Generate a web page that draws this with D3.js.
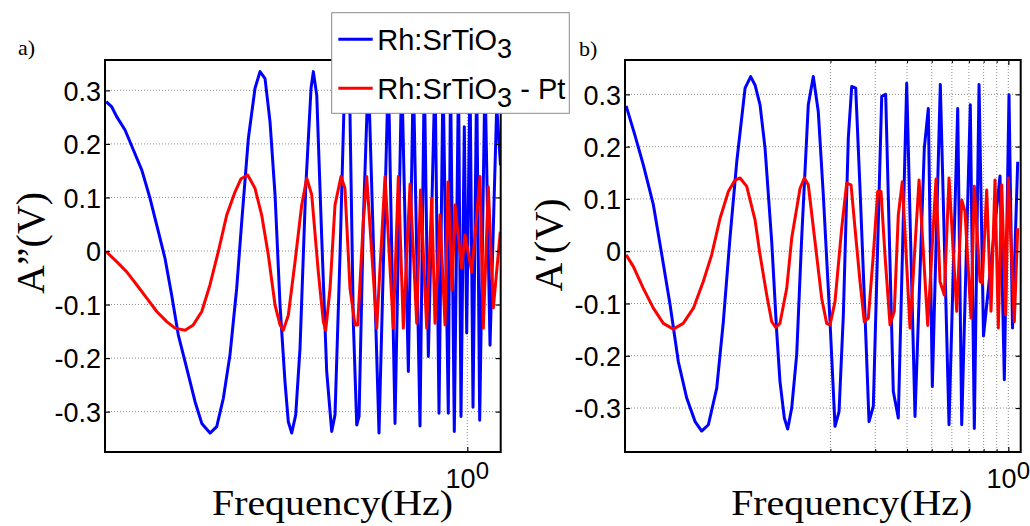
<!DOCTYPE html>
<html><head><meta charset="utf-8">
<script src="https://cdn.jsdelivr.net/npm/d3@7"></script>
<style>html,body{margin:0;padding:0;background:#fff;} svg{display:block;}</style>
</head><body>
<svg id="chart" width="1030" height="526"></svg>
<script>
// ---------- data (frequency in Hz, amplitude in V) ----------
const aBlueHz = [0.0381,0.0401,0.0419,0.0452,0.0487,0.0526,0.0567,0.0611,0.0649,0.0689,0.0732,0.0790,0.0851,0.0905,0.0975,0.1036,0.1100,0.1168,0.1241,0.1299,0.1379,0.1465,0.1533,0.1604,0.1678,0.1756,0.1837,0.1921,0.1980,0.2042,0.2117,0.2201,0.2317,0.2432,0.2483,0.2561,0.2679,0.2802,0.2932,0.3021,0.3161,0.3305,0.3460,0.3565,0.3677,0.3755,0.3903,0.4083,0.4498,0.4894,0.5199,0.5524,0.5866,0.6135,0.6518,0.6776,0.7028,0.7466,0.7740,0.8026,0.8420,0.8590,0.8890,0.9235,0.9445,0.9732,0.9946,1.0247,1.0529,1.0887,1.1186,1.1735,1.2281,1.3047,1.3505];
const aBlueV = [0.279,0.269,0.251,0.226,0.189,0.151,0.098,0.036,-0.014,-0.082,-0.157,-0.219,-0.281,-0.322,-0.340,-0.328,-0.275,-0.194,-0.070,0.055,0.210,0.304,0.335,0.322,0.241,0.105,-0.101,-0.244,-0.319,-0.340,-0.306,-0.182,0.117,0.304,0.335,0.291,0.024,-0.225,-0.337,-0.306,-0.007,0.335,0.254,-0.132,-0.325,-0.309,0.055,0.335,-0.340,0.335,-0.322,0.335,-0.225,0.335,-0.327,0.335,-0.197,0.335,-0.303,0.33,-0.303,0.33,-0.337,0.33,-0.309,0.232,-0.153,0.33,-0.292,0.33,-0.316,0.33,-0.176,0.27,0.16];
const aRedHz = [0.0381,0.0419,0.0459,0.0502,0.0550,0.0602,0.0659,0.0710,0.0778,0.0838,0.0905,0.0975,0.1051,0.1134,0.1222,0.1291,0.1371,0.1465,0.1556,0.1652,0.1756,0.1837,0.1892,0.1980,0.2104,0.2235,0.2339,0.2447,0.2597,0.2718,0.2777,0.2888,0.3021,0.3189,0.3305,0.3460,0.3620,0.3710,0.3903,0.4024,0.4406,0.4750,0.5120,0.5358,0.5605,0.5957,0.6327,0.6548,0.6924,0.7244,0.7466,0.7811,0.8173,0.8398,0.8708,0.8948,0.9506,0.9794,1.0406,1.0819,1.1217,1.1556,1.2092,1.2653,1.3480];
const aRedV = [-0.001,-0.020,-0.039,-0.063,-0.088,-0.113,-0.132,-0.144,-0.148,-0.138,-0.113,-0.063,-0.001,0.067,0.110,0.135,0.142,0.117,0.067,-0.007,-0.101,-0.138,-0.148,-0.120,-0.020,0.086,0.136,0.105,-0.039,-0.132,-0.148,-0.070,0.086,0.139,0.117,-0.070,-0.138,-0.138,0.055,0.139,-0.144,0.139,-0.144,0.139,-0.144,0.125,-0.135,0.114,-0.144,0.098,-0.135,0.067,-0.138,0.129,-0.073,0.086,-0.032,0.030,-0.039,0.050,0.139,-0.144,0.120,-0.106,0.036];
const bBlueHz = [0.0315,0.0341,0.0368,0.0403,0.0435,0.0469,0.0505,0.0545,0.0588,0.0624,0.0663,0.0715,0.0759,0.0806,0.0857,0.0924,0.0972,0.1011,0.1058,0.1107,0.1176,0.1230,0.1267,0.1318,0.1359,0.1409,0.1474,0.1542,0.1637,0.1713,0.1792,0.1875,0.1993,0.2085,0.2162,0.2248,0.2351,0.2425,0.2514,0.2614,0.2735,0.2836,0.2948,0.3085,0.3181,0.3297,0.3532,0.3696,0.3988,0.4299,0.4677,0.4849,0.5028,0.5405,0.5848,0.6327,0.6560,0.7090,0.7353,0.7673,0.7990,0.9277,0.9645,1.0063,1.0387,1.0887];
const bBlueV = [0.278,0.222,0.165,0.089,-0.007,-0.103,-0.211,-0.281,-0.326,-0.344,-0.332,-0.262,-0.135,0.025,0.171,0.312,0.334,0.318,0.280,0.197,0.018,-0.154,-0.249,-0.319,-0.340,-0.300,-0.198,0.025,0.280,0.334,0.267,0.108,-0.135,-0.335,-0.307,-0.122,0.216,0.315,0.312,0.120,-0.122,-0.326,-0.297,0.057,0.296,0.300,-0.268,-0.319,0.321,-0.316,0.197,0.273,-0.259,0.319,-0.332,0.273,-0.332,0.280,-0.339,0.319,-0.162,0.144,-0.246,0.299,-0.147,0.171];
const bRedHz = [0.0315,0.0336,0.0368,0.0403,0.0441,0.0483,0.0528,0.0579,0.0633,0.0683,0.0737,0.0794,0.0844,0.0883,0.0938,0.1011,0.1058,0.1124,0.1176,0.1219,0.1267,0.1347,0.1409,0.1519,0.1579,0.1637,0.1740,0.1848,0.1933,0.1993,0.2085,0.2215,0.2317,0.2410,0.2498,0.2614,0.2718,0.2818,0.2948,0.3068,0.3161,0.3276,0.3429,0.3565,0.3696,0.3832,0.4109,0.4459,0.4824,0.5199,0.5390,0.5605,0.5848,0.6270,0.6560,0.6758,0.7136,0.7353,0.7742,0.7903,0.8223,0.8551,0.8865,0.9135,0.9420,0.9768,1.0000,1.0558,1.0887];
const bRedV = [-0.007,-0.029,-0.071,-0.109,-0.138,-0.149,-0.138,-0.109,-0.058,-0.007,0.063,0.114,0.136,0.140,0.124,0.060,-0.007,-0.084,-0.135,-0.146,-0.138,-0.071,0.025,0.120,0.140,0.127,0.018,-0.090,-0.138,-0.141,-0.096,0.044,0.130,0.127,0.044,-0.058,-0.135,-0.128,-0.007,0.114,0.114,-0.007,-0.141,-0.115,0.069,0.133,-0.147,0.136,-0.142,0.138,-0.058,-0.084,0.140,-0.115,0.098,0.076,-0.128,0.124,-0.058,-0.061,0.117,-0.115,0.136,-0.147,0.127,-0.122,0.140,-0.135,0.044];

const yTicks = [-0.3,-0.2,-0.1,0,0.1,0.2,0.3];
const xMajorTicks = [1];
const xMinorTicksB = [0.2,0.3,0.4,0.5,0.6,0.7,0.8,0.9];
const seriesNames = ["Rh:SrTiO|3|", "Rh:SrTiO|3| - Pt"];
const seriesColors = ["#0000ff", "#ff0000"];

// ---------- drawing ----------
const svg = d3.select("#chart");
const SANS = "'Liberation Sans', Arial, Helvetica, sans-serif";
const SERIF = "'Liberation Serif', 'Times New Roman', serif";

const panels = [
  {left:105, right:500.7, top:60, bottom:452, xDomain:[0.0377,1.3527], yDomain:[-0.3754,0.3567],
   series:[[aBlueHz,aBlueV],[aRedHz,aRedV]], ylabel:"A\u201D(V)", tag:"a)", tagX:18, tagY:55,
   ylabX:44, ylabY:243, xlabX:332.5, minor:[]},
  {left:625, right:1020.7, top:60, bottom:452, xDomain:[0.03118,1.1186], yDomain:[-0.3841,0.3657],
   series:[[bBlueHz,bBlueV],[bRedHz,bRedV]], ylabel:"A\u2032(V)", tag:"b)", tagX:579, tagY:56,
   ylabX:561.5, ylabY:245, xlabX:851.7, minor:xMinorTicksB}
];

panels.forEach((p, pi) => {
  const x = d3.scaleLog().domain(p.xDomain).range([p.left, p.right]);
  const y = d3.scaleLinear().domain(p.yDomain).range([p.bottom, p.top]);
  const g = svg.append("g");

  // grid
  const grid = g.append("g").attr("stroke", "#8c8c8c").attr("stroke-width", 1).attr("stroke-dasharray", "1,2");
  grid.selectAll("line.h").data(yTicks).join("line").attr("class","h")
    .attr("x1", p.left).attr("x2", p.right).attr("y1", d => y(d)).attr("y2", d => y(d));
  grid.selectAll("line.v").data(xMajorTicks.concat(p.minor)).join("line").attr("class","v")
    .attr("y1", p.top).attr("y2", p.bottom).attr("x1", d => x(d)).attr("x2", d => x(d));

  // clip
  const cid = "clip" + pi;
  svg.append("clipPath").attr("id", cid).append("rect")
    .attr("x", p.left).attr("y", p.top).attr("width", p.right - p.left).attr("height", p.bottom - p.top);

  const line = d3.line().x(d => x(d[0])).y(d => y(d[1]));
  p.series.forEach((s, si) => {
    const pts = s[0].map((f, i) => [f, s[1][i]]);
    g.append("path").datum(pts).attr("d", line)
      .attr("clip-path", `url(#${cid})`)
      .attr("fill", "none").attr("stroke", seriesColors[si]).attr("stroke-width", 3)
      .attr("stroke-linejoin", "round");
  });

  // axes (ticks inward)
  const fmt = d => d === 0 ? "0" : d.toFixed(1);
  const ax = g.append("g").attr("transform", `translate(${p.left},0)`)
    .call(d3.axisLeft(y).tickValues(yTicks).tickSizeInner(-5).tickSizeOuter(0).tickPadding(4).tickFormat(fmt));
  ax.select(".domain").remove();
  ax.selectAll("text").attr("font-family", SANS).attr("font-size", 27).attr("fill", "#000").attr("dy", "0.36em");
  ax.selectAll("line").attr("stroke", "#000").attr("stroke-width", 1.2);

  const axr = g.append("g").attr("transform", `translate(${p.right},0)`)
    .call(d3.axisRight(y).tickValues(yTicks).tickSizeInner(-5).tickSizeOuter(0).tickFormat(""));
  axr.select(".domain").remove();
  axr.selectAll("line").attr("stroke", "#000").attr("stroke-width", 1.2);

  [["bottom", p.bottom, d3.axisBottom], ["top", p.top, d3.axisTop]].forEach(([nm, yy, fn]) => {
    const a1 = g.append("g").attr("transform", `translate(0,${yy})`)
      .call(fn(x).tickValues(xMajorTicks).tickSizeInner(-5).tickSizeOuter(0).tickFormat(""));
    a1.select(".domain").remove();
    a1.selectAll("line").attr("stroke", "#000").attr("stroke-width", 1.2);
    if (p.minor.length) {
      const a2 = g.append("g").attr("transform", `translate(0,${yy})`)
        .call(fn(x).tickValues(p.minor).tickSizeInner(-3).tickSizeOuter(0).tickFormat(""));
      a2.select(".domain").remove();
      a2.selectAll("line").attr("stroke", "#000").attr("stroke-width", 1);
    }
  });

  // 10^0 label
  xMajorTicks.forEach(t => {
    const tt = g.append("text").attr("x", x(t)).attr("y", 488).attr("text-anchor", "middle")
      .attr("font-family", SANS).attr("font-size", 27).attr("fill", "#000");
    tt.append("tspan").text("10");
    tt.append("tspan").attr("dy", -9).attr("font-size", 24).text(String(Math.round(Math.log10(t))));
  });

  // frame
  g.append("rect").attr("x", p.left).attr("y", p.top).attr("width", p.right - p.left).attr("height", p.bottom - p.top)
    .attr("fill", "none").attr("stroke", "#000").attr("stroke-width", 2);

  // labels
  g.append("text").attr("transform", `translate(${p.ylabX},${p.ylabY}) rotate(-90)`)
    .attr("text-anchor", "middle").attr("font-family", SERIF).attr("font-size", 40).attr("fill", "#000")
    .text(p.ylabel);
  g.append("text").attr("x", p.xlabX).attr("y", 515).attr("text-anchor", "middle")
    .attr("font-family", SERIF).attr("font-size", 36).attr("fill", "#000")
    .attr("textLength", 241).attr("lengthAdjust", "spacingAndGlyphs")
    .text("Frequency(Hz)");
  g.append("text").attr("x", p.tagX).attr("y", p.tagY)
    .attr("font-family", SERIF).attr("font-size", 22).attr("fill", "#000").text(p.tag);
});

// legend (over panel a)
const lg = svg.append("g");
lg.append("rect").attr("x", 331.7).attr("y", 12.7).attr("width", 237.6).attr("height", 100.6)
  .attr("fill", "#fff").attr("stroke", "#8a8a8a").attr("stroke-width", 1);
seriesNames.forEach((nm, i) => {
  const ly = 39.3 + i * 49;
  lg.append("line").attr("x1", 338.3).attr("x2", 372.7).attr("y1", ly).attr("y2", ly)
    .attr("stroke", seriesColors[i]).attr("stroke-width", 3);
  const parts = nm.split("|");
  const t = lg.append("text").attr("x", 377.3).attr("y", ly + 10.7)
    .attr("font-family", SANS).attr("font-size", 29).attr("fill", "#000");
  t.append("tspan").text(parts[0]);
  t.append("tspan").attr("dy", 8).attr("font-size", 27).text(parts[1]);
  if (parts[2]) t.append("tspan").attr("dy", -8).attr("font-size", 29).text(parts[2]);
});
</script>
</body></html>
